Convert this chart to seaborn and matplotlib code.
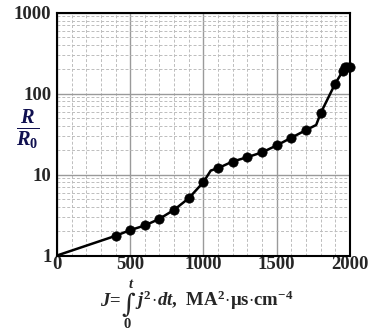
import matplotlib
matplotlib.use("Agg")
import matplotlib.pyplot as plt
import seaborn as sns
import pandas as pd
from matplotlib.ticker import MultipleLocator, LogLocator, NullFormatter, FixedLocator

# Marker data
marker_x = [400, 500, 600, 700, 800, 900, 1000, 1100, 1200, 1300, 1400, 1500,
            1600, 1700, 1800, 1900, 1952, 1967, 1982, 2000]
marker_y = [1.75, 2.06, 2.35, 2.84, 3.67, 5.1, 8.06, 12.0, 14.5, 16.4, 18.8, 22.9,
            28.5, 35.4, 57, 133, 190, 212, 215, 213]

# Curve (passes through the markers, with its visible knees)
line_x = [0, 400, 500, 600, 700, 800, 900, 1000, 1050, 1100, 1200, 1300, 1400, 1500,
          1600, 1700, 1770, 1800, 1900, 1952, 1967, 1982, 2000]
line_y = [1.0, 1.75, 2.06, 2.35, 2.84, 3.67, 5.1, 8.06, 11.2, 12.0, 14.5, 16.4, 18.8, 22.9,
          28.5, 35.4, 41, 57, 133, 190, 212, 215, 213]

x_ticks = [0, 500, 1000, 1500, 2000]
y_ticks = [1, 10, 100, 1000]
y_tick_labels = ["1", "10", "100", "1000"]

sns.set_style("white")
plt.rcParams["font.family"] = ["Liberation Serif", "DejaVu Serif"]
plt.rcParams["mathtext.fontset"] = "custom"
plt.rcParams["mathtext.rm"] = "Liberation Serif:bold"
plt.rcParams["mathtext.it"] = "Liberation Serif:italic:bold"
plt.rcParams["mathtext.bf"] = "Liberation Serif:bold"

W, H = 371, 333
fig = plt.figure(figsize=(W / 100, H / 100), dpi=100)
ax = fig.add_axes([0.1536, 0.2327, 0.7894, 0.7292])

df_line = pd.DataFrame({"J": line_x, "R": line_y})
df_mark = pd.DataFrame({"J": marker_x, "R": marker_y})

ax.set_yscale("log")
sns.lineplot(data=df_line, x="J", y="R", ax=ax, color="black", linewidth=1.8,
             sort=False, zorder=3)
sns.scatterplot(data=df_mark, x="J", y="R", ax=ax, color="black", s=45,
                edgecolor="black", linewidth=0.5, zorder=4, clip_on=False)

ax.set_xlim(0, 2000)
ax.set_ylim(1, 1000)

ax.xaxis.set_major_locator(FixedLocator(x_ticks))
ax.xaxis.set_minor_locator(MultipleLocator(100))
ax.yaxis.set_major_locator(FixedLocator(y_ticks))
ax.yaxis.set_minor_locator(LogLocator(base=10, subs=range(2, 10)))
ax.yaxis.set_minor_formatter(NullFormatter())
ax.set_yticklabels(y_tick_labels)

ax.grid(which="major", color="#9a9a9a", linewidth=1.0, linestyle="-")
ax.grid(which="minor", color="#bdbdbd", linewidth=0.7, linestyle=(0, (3, 2)))
ax.set_axisbelow(True)

for lab in ax.get_xticklabels() + ax.get_yticklabels():
    lab.set_fontweight("bold")
    lab.set_fontsize(13.5)
ax.tick_params(axis="x", which="both", length=0, pad=0)
ax.tick_params(axis="y", which="both", length=0, pad=4)

for sp in ax.spines.values():
    sp.set_visible(True)
    sp.set_color("black")
    sp.set_linewidth(1.5)

ax.set_xlabel("")
ax.set_ylabel("")

fig.text(0.075, 0.61, r"$\frac{R}{R_0}$", fontsize=21, color="#101050",
         ha="center", va="center")


def fx(px):
    return px / W


def fy(py):
    return 1 - py / H


# x-axis label: J = integral_0^t j^2 dt, MA^2 us cm^-4 (laid out piece by piece)
renderer = fig.canvas.get_renderer()
base_y = 306  # baseline, pixels from top
t1 = fig.text(fx(100), fy(base_y), r"$J\!=$", fontsize=13.5, ha="left", va="baseline")
bb1 = t1.get_window_extent(renderer)
t2 = fig.text(bb1.x1 / W, fy(base_y + 6), "\u222b", fontsize=19, family="DejaVu Serif",
              ha="left", va="baseline")
bb2 = t2.get_window_extent(renderer)
t3 = fig.text(bb2.x1 / W, fy(base_y),
              r"$j^2\!\cdot\!dt$,  MA$^2\!\cdot\!$μs$\cdot$cm$^{-4}$",
              fontsize=13.5, fontweight="bold", ha="left", va="baseline")
cx = (bb2.x0 + bb2.x1) / 2
fig.text((cx + 3) / W, (bb2.y1 + 0.5) / H, r"$t$", fontsize=10.5, ha="center", va="bottom")
fig.text((cx - 1) / W, (bb2.y0 - 0.5) / H, "0", fontsize=10.5, fontweight="bold",
         ha="center", va="top")

fig.savefig("out.png", dpi=100)
